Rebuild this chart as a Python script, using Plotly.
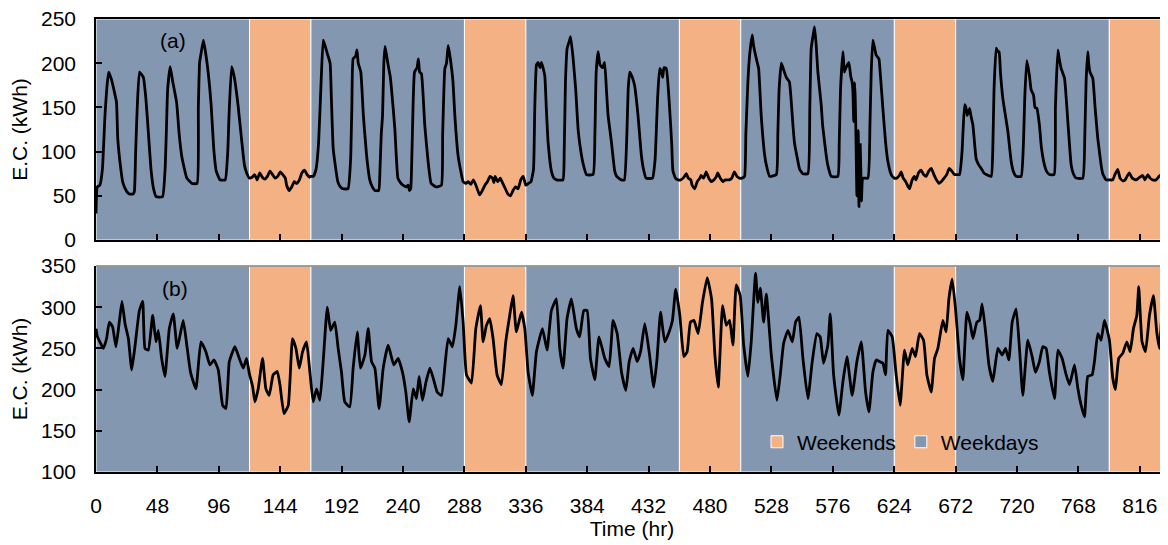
import plotly.graph_objects as go

# ---------------- data ----------------
# shading periods (hours)
period_start = [0, 120, 168, 288, 336, 456, 504, 624, 672, 792]
period_end = [120, 168, 288, 336, 456, 504, 624, 672, 792, 840]
period_type = ["Weekdays", "Weekends"] * 5

# panel (a): (hour, kWh) samples
week1_a = [(0,30),(1,60),(3,62),(5,80),(7,140),(9,180),(10,190),(12,182),(14,170),(16,156),(17,115),(19,85),(21,65),(24,55),(26,52),(29,52),(30,55),(31,100),(32,141),(34,190),(37,184),(39,160),(41,120),(43,80),(45,58),(47,49),(52,49),(54,80),(55,123),(56,170),(58,196),(60,179),(63,156),(65,120),(67,95),(71,70),(75,64),(79,64),(80,150),(81,201),(82,210),(84,226),(87,198),(90,153),(92,104),(94,78),(97,68),(101,68),(103,100),(104,141),(106,196),(108,185),(111,153),(114,111),(116,85),(118,75),
           (120,70),(122,71),(124,74),(126,68),(128,76),(130,71),(132,69),(134,72),(136,78),(138,74),(140,70),(142,72),(144,77),(146,74),(148,70),(149,62),(151,56),(153,60),(155,66),(157,64),(159,68),(161,76),(163,79),(165,74),(167,71)]
week2_a = [(168,72),(170,72),(172,80),(174,110),(176,180),(177.6,226),(179,220),(181,210),(183,200),(184,160),(185.4,104),(187,85),(189,66),(191,60),(193,58),(197,58),(199,90),(200,150),(201,205),(203,208),(204,215),(205,200),(207,190),(209,141),(211.5,96),(214,68),(216,60),(218,56),(221,56),(222,80),(223,120),(224,141),(225,200),(226,219),(228,201),(230,185),(231,171),(233.6,126),(236,70),(238,65),(240,62),(242.6,60),(244,62),(245,56),(246,58),(247,100),(248,160),(249,190),(251,195),(252,205),(253,190),(254.4,188),(257,130),(259.6,89),(262,64),(266,60),(270,62),(271,120),(272.7,194),(274,200),(275.3,220),(277,205),(279,180),(280.5,141),(283,96),(285.7,74),(287,66),
           (289,64),(291,66),(293,63),(295,68),(297,62),(299,54),(300,51),(302,56),(304,62),(306,66),(308,72),(310,70),(311,65),(312,72),(314,66),(316,70),(318,64),(320,58),(322,52),(324,50),(326,56),(328,60),(330,58),(332,68),(334,72),(336,62)]
week3_a = [(338,64),(340,66),(342,80),(343,150),(344.3,198),(345.6,201),(347,195),(348.2,201),(350.8,186),(352,150),(353.4,111),(356,78),(358,70),(360,68),(365,68),(366,100),(367,180),(368.3,217),(370,225),(371,230),(373,205),(375,170),(377,123),(379.5,96),(381,85),(383.4,74),(388.6,74),(390,120),(391,190),(392.5,213),(394,198),(396,195),(397.6,201),(399,170),(400.3,141),(402.9,111),(405.5,78),(407,72),(410.7,68),(413,68),(415,120),(416,170),(417.2,190),(419,185),(421,175),(423.7,141),(426.3,96),(428,80),(430,70),(435,70),(437,90),(439,160),(440.6,194),(442,190),(443,184),(444,195),(445.8,194),(448.4,149),(450,110),(451,78),(453,70),(455,68),
           (457,68),(459,70),(461.5,75),(463,70),(465,68),(466,62),(468,58),(470,66),(472,70),(473,73),(475,70),(477,77),(479,70),(481,66),(483,68),(485,72),(486,76),(488,70),(490,66),(492,68),(495,68),(497,70),(499,77),(501,72),(503,70)]
week4_a = [(505,70),(507,72),(508,120),(509.6,179),(511,210),(513,232),(514,220),(515.6,209),(517,200),(518,194),(520,141),(522.7,96),(524,85),(526.6,72),(531.8,74),(533,120),(534,170),(535.7,200),(537,195),(539.6,184),(542,179),(544.8,130),(546,110),(548.7,89),(550,80),(552.6,75),(556.5,75),(558,150),(559.1,217),(561,235),(561.7,241),(563,220),(564.3,190),(566.9,153),(568,130),(570.8,96),(572,85),(574.7,72),(579.9,72),(581,110),(582,170),(583.9,213),(585,190),(586,194),(588.5,201),(590,185),(591,179),(591.7,168),(592.3,134),(593,178),(593.5,160),(594,123),(594.8,50),(595.4,110),(595.8,124),(596.4,38),(597,80),(597.4,108),(598,70),(598.4,44),(599.5,70),(603.4,70),(605,130),(606,190),(607.3,226),(609.9,209),(612,205),(613,190),(615.1,149),(617.2,111),(619,89),(621.6,74),(624,70),
           (626,70),(628,73),(629.4,77),(631,70),(633,66),(635,60),(636,58),(638,68),(639.8,72),(641,68),(643,76),(645,79),(647,74),(649,72),(651,78),(653,81),(655,74),(657,68),(659,64),(660.7,66),(663,70),(665,74),(667,81),(669,78),(671,74)]
week5_a = [(672,74),(675,74),(677,100),(679,153),(680,150),(681,141),(682.9,149),(684,140),(685.5,130),(688,92),(690,85),(692,81),(694,76),(696,74),(699.8,72),(701,100),(702,170),(703.7,217),(705,213),(706,213),(707,190),(708.9,160),(711,140),(712.8,123),(715.4,89),(717,78),(719.3,72),(723.2,72),(725,110),(726,160),(727.6,203),(729.7,186),(731,170),(732.9,164),(734,150),(735.5,149),(737.5,130),(739,105),(741.4,85),(743,78),(745.3,74),(749,74),(750,150),(751.9,215),(753,205),(754.5,194),(757.1,183),(759.7,134),(762.3,85),(764,75),(766.2,70),(771.4,70),(773,120),(774,180),(775.3,213),(776,200),(777,190),(779.2,183),(781,150),(783.1,115),(785.7,85),(787,75),(789.6,68),
           (792,68),(794.8,68),(796.5,74),(798.7,80),(800.5,70),(802.6,67),(804.5,68),(806,72),(807.8,76),(810,70),(813,68),(815,70),(818.3,73),(820,68),(822.2,74),(824,70),(826,68),(828.7,68),(831,72),(833.9,75),(836,72),(838,75)]

# panel (b): (hour, kWh) samples
week1_b = [(0,274),(1,265),(3,258),(5.7,250),(7,255),(8.3,262),(10.4,282),(13,276),(15.6,252),(18.2,282),(20.3,307),(22.7,280),(25.3,262),(27.9,224),(30.5,253),(33.9,296),(36.5,307),(38.3,250),(40.9,248),(44.3,290),(46.9,258),(48.7,272),(51.3,238),(53.9,216),(57.3,274),(60.4,292),(63.5,250),(68.2,284),(71.3,250),(73.9,221),(78.1,201),(82,258),(85.9,246),(89,230),(92.2,236),(95.6,224),(99,181),(101.6,177),(104.2,234),(108.6,252),(112,238),(115.1,226),(117.7,238),(119.8,220),(122.4,204),(124.2,185),(126.8,201),(130.2,238),(132.8,201),(135.4,193),(138.5,218),(141.7,222),(143.8,206),(146.9,171),(150.3,181),(153.6,262),(156.3,250),(158.9,226),(161.5,246),(164.6,258),(167.2,221)]
week2_b = [(169.8,185),(172.4,201),(175,187),(177.6,234),(180.8,300),(183.4,272),(186.7,282),(189.3,250),(191.9,221),(194.5,185),(198.4,179),(201,226),(204.2,270),(206.7,226),(210.2,242),(212.8,274),(215.4,234),(218,226),(221.3,177),(224.5,226),(228.4,254),(232.8,230),(236.2,238),(239.6,221),(242.2,197),(244.8,161),(248,201),(250.5,189),(252.6,216),(255.2,187),(257.8,208),(261,226),(263.6,214),(266.7,197),(270.1,193),(272.7,228),(275.3,262),(278.6,252),(281.3,278),(284.4,325),(287,282),(289.6,218),(293.5,208),(296.9,274),(300.5,302),(302.6,258),(305.2,278),(307.8,286),(310.4,262),(313.5,218),(316.9,206),(320.3,258),(323.4,290),(326,314),(328.6,270),(332.6,294),(335.2,274)]
week3_b = [(337.8,221),(341.1,193),(344.3,246),(349,274),(352.6,248),(356,296),(359.9,310),(362.5,250),(365.1,226),(368.2,286),(371.6,310),(375.5,274),(378.1,264),(381.3,296),(383.9,296),(386.5,238),(389.9,212),(393.2,264),(397.7,238),(401.1,228),(404.2,284),(407.4,268),(410.8,221),(414.2,199),(416.8,234),(419.9,250),(423,234),(425.7,246),(429,280),(432.4,246),(436,203),(438.6,238),(441.3,294),(444.6,258),(448,270),(450.6,284),(453.2,322),(456.4,290),(459.5,240),(462.1,246),(464.7,282),(467.4,284),(470.7,268),(474.1,306),(477.8,336),(481.2,310),(483.8,242),(486.4,203),(489.8,302),(492.7,278),(495.3,284),(497.9,254),(500.5,327),(503.6,314)]
week4_b = [(506.3,254),(509.6,216),(512.2,258),(515.6,341),(517.4,306),(519.3,323),(521.9,282),(524,316),(527.9,242),(532.3,187),(534.9,218),(537.5,256),(540.9,272),(544.3,258),(546.9,282),(549.5,288),(552.6,238),(556.5,189),(559.9,234),(563.5,268),(566.1,264),(568.7,232),(572.1,254),(574,292),(576.6,218),(580.7,169),(583.9,210),(587,240),(591.1,193),(594.8,234),(598.2,258),(601.6,197),(604.2,173),(607.3,221),(609.9,236),(612.5,234),(615.1,232),(617.2,218),(619,272),(622.4,264),(625.5,218),(628.6,181),(632,248),(634.6,230),(638,250),(640.6,240),(643.7,268),(646.9,260),(649.5,218),(652.9,197),(655.5,238),(658.1,250),(662,284),(664.6,270),(666.7,310),(669.3,334),(671.9,298)]
week5_b = [(675,238),(677.6,212),(680.8,294),(683.4,280),(685.5,262),(688.6,282),(690.7,284),(692.7,304),(695.4,270),(698,230),(701.1,210),(705,250),(708.4,242),(711,250),(713.6,236),(716.2,282),(719.3,298),(721.9,250),(724.5,193),(728.4,260),(731.8,240),(734.4,221),(737.5,234),(740.1,252),(742.7,250),(745.3,221),(749.3,189),(751.9,248),(755.2,238),(758.4,218),(761,206),(764.9,230),(767.5,202),(770.1,181),(772.7,167),(775.3,216),(778.7,218),(780.5,234),(783.1,268),(785.7,260),(788.3,284),(792.2,260),(794.8,214),(796.9,200),(799.5,238),(802.6,244),(805.8,258),(808.4,246),(811,274),(813.6,290),(815.1,325),(817.7,258),(820.4,246),(823.5,290),(826.6,314),(829.2,270),(831.3,250),(833.9,310),(836.5,341),(838,314)]

x_ticks = list(range(0, 817, 48))

# ---------------- figure ----------------
BLUE = "#8497B0"
ORANGE = "#F4B183"
FONT = "Liberation Sans, Arial, sans-serif"

def unzip(weeks):
    t, v = [], []
    for w in weeks:
        for a, b in w:
            t.append(a); v.append(b)
    return t, v

t_a, ec_a = unzip([week1_a, week2_a, week3_a, week4_a, week5_a])
t_b, ec_b = unzip([week1_b, week2_b, week3_b, week4_b, week5_b])

fig = go.Figure()

def add_shading(xa, ya, lo, hi, show):
    for kind, col in (("Weekends", ORANGE), ("Weekdays", BLUE)):
        xs = [(s + e) / 2 for s, e, k in zip(period_start, period_end, period_type) if k == kind]
        ws = [(e - s) for s, e, k in zip(period_start, period_end, period_type) if k == kind]
        fig.add_trace(go.Bar(x=xs, y=[hi - lo] * len(xs), base=lo, width=ws,
                             marker=dict(color=col, line=dict(color="white", width=1)),
                             name=kind, showlegend=show, xaxis=xa, yaxis=ya,
                             hoverinfo="skip"))

add_shading("x", "y", 0, 250, False)
add_shading("x2", "y2", 100, 350, True)

line_style = dict(color="black", width=2.8, shape="spline", smoothing=0.4)
fig.add_trace(go.Scatter(x=t_a, y=ec_a, mode="lines", line=line_style,
                         showlegend=False, xaxis="x", yaxis="y"))
fig.add_trace(go.Scatter(x=t_b, y=ec_b, mode="lines", line=line_style,
                         showlegend=False, xaxis="x2", yaxis="y2"))

axis_common = dict(showline=True, linecolor="black", linewidth=1.5, ticks="inside",
                   ticklen=6, tickwidth=1.5, tickcolor="black", showgrid=False, zeroline=False,
                   automargin=False, ticklabeloverflow="allow",
                   tickfont=dict(family=FONT, size=21, color="black"))

# the page body adds an 8px offset, so the figure is 8px smaller and margins shifted
fig.update_layout(
    width=1160, height=537,
    margin=dict(l=88, r=0, t=11, b=73),
    paper_bgcolor="white", plot_bgcolor="white",
    font=dict(family=FONT, size=21, color="black"),
    barmode="overlay",
    xaxis=dict(domain=[0, 1], range=[0, 838], anchor="y", tickvals=x_ticks,
               showticklabels=False, mirror=True, **axis_common),
    yaxis=dict(domain=[0.5121, 1], range=[0, 250], dtick=50, anchor="x",
               ticklabelstandoff=14,
               title=dict(text="E.C. (kWh)", font=dict(family=FONT, size=21), standoff=8),
               **axis_common),
    xaxis2=dict(domain=[0, 1], range=[0, 838], anchor="y2", tickvals=x_ticks,
                ticklabelstandoff=14,
                title=dict(text="Time (hr)", font=dict(family=FONT, size=21), standoff=2),
                **axis_common),
    yaxis2=dict(domain=[0, 0.4547], range=[100, 350], dtick=50, anchor="x2",
                ticklabelstandoff=14,
                title=dict(text="E.C. (kWh)", font=dict(family=FONT, size=21), standoff=8),
                **axis_common),
    legend=dict(orientation="h", x=0.6166, xanchor="left", y=0.066, yanchor="middle",
                bgcolor="rgba(0,0,0,0)", font=dict(family=FONT, size=21, color="black"),
                traceorder="normal"),
    annotations=[
        dict(text="(a)", x=60, y=226, xref="x", yref="y", showarrow=False,
             font=dict(family=FONT, size=21, color="black")),
        dict(text="(b)", x=62, y=323, xref="x2", yref="y2", showarrow=False,
             font=dict(family=FONT, size=21, color="black")),
    ],
    shapes=[dict(type="line", xref="paper", yref="paper", x0=0, x1=1, y0=0.4547, y1=0.4547,
                 line=dict(color="#808080", width=1.5), layer="above")],
)

fig.write_html("out.html")
